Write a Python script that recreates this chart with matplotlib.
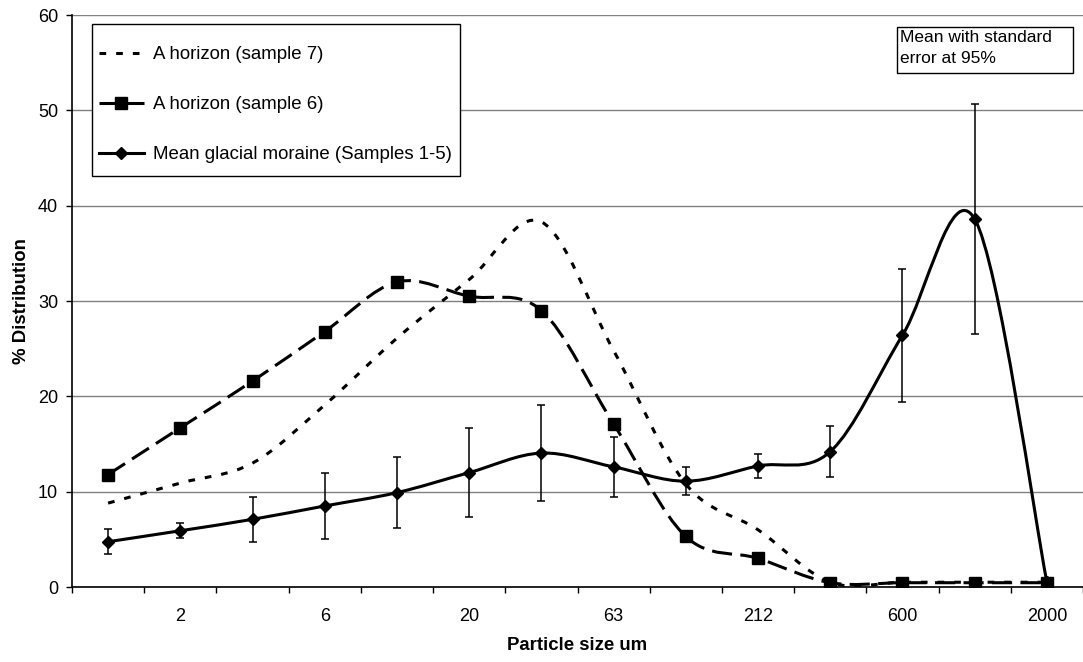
import numpy as np
import matplotlib
matplotlib.use('Agg')
import matplotlib.pyplot as plt
from matplotlib.path import Path
from matplotlib.patches import PathPatch, Rectangle
from matplotlib.lines import Line2D

plt.rcParams['font.family'] = ['Liberation Sans', 'DejaVu Sans']
plt.rcParams['lines.scale_dashes'] = False

# particle size classes (only every other one carries a label)
tamanhos = ['', '2', '', '6', '', '20', '', '63', '', '212', '', '600', '', '2000']

# % distribution per size class
amostra7 = [8.8, 10.9, 13.0, 19.1, 26.1, 32.25, 38.3, 24.8, 10.8, 6.0, 0.5, 0.5, 0.5, 0.5]
amostra6 = [11.8, 16.7, 21.6, 26.8, 32.0, 30.5, 29.0, 17.1, 5.3, 3.0, 0.45, 0.45, 0.45, 0.45]
moraina = [4.75, 5.9, 7.1, 8.5, 9.9, 12.0, 14.05, 12.6, 11.1, 12.7, 14.2, 26.4, 38.6, 0.5]
# standard error at 95% for the moraine mean (none on the last class)
erro95 = [1.3, 0.8, 2.35, 3.45, 3.7, 4.7, 5.0, 3.15, 1.45, 1.25, 2.7, 7.0, 12.1, None]


def suave(x, y):
    # smoothed line through every point (cubic bezier segments)
    p = np.column_stack([x, y]).astype(float)
    n = len(p)
    verts = [p[0]]
    codes = [Path.MOVETO]
    for i in range(n - 1):
        p0 = p[max(i - 1, 0)]
        p1 = p[i]
        p2 = p[i + 1]
        p3 = p[min(i + 2, n - 1)]
        verts += [p1 + (p2 - p0) / 6, p2 - (p3 - p1) / 6, p2]
        codes += [Path.CURVE4] * 3
    return Path(verts, codes)


W, H = 1083, 662
fig = plt.figure(figsize=(W / 100, H / 100), dpi=100)
ax = fig.add_axes([72 / W, (H - 587) / H, (W - 72) / W, 572 / H])

x = np.arange(len(tamanhos))

pontilhado = (0, (4.8, 7.2))
tracejado = (0, (14.5, 6))

ax.add_patch(PathPatch(suave(x, amostra7), fill=False, lw=2.2, ls=pontilhado,
                       edgecolor='black', capstyle='butt', zorder=3))
ax.add_patch(PathPatch(suave(x, amostra6), fill=False, lw=2.2, ls=tracejado,
                       edgecolor='black', capstyle='butt', zorder=3))
ax.plot(x, amostra6, ls='none', marker='s', ms=8, color='black', zorder=4)

ax.add_patch(PathPatch(suave(x, moraina), fill=False, lw=2.2, ls='-',
                       edgecolor='black', zorder=5))
ie = [i for i, e in enumerate(erro95) if e is not None]
ax.errorbar(x[ie], np.array(moraina)[ie], yerr=[erro95[i] for i in ie],
            fmt='none', ecolor='black', elinewidth=1.1, capsize=3, capthick=1.1, zorder=5)
ax.plot(x, moraina, ls='none', marker='D', ms=6.5, color='black', zorder=6)

ax.set_xlim(-0.5, len(tamanhos) - 0.5)
ax.set_ylim(0, 60)
ax.set_yticks(np.arange(0, 61, 10))
ax.grid(axis='y', color='#808080', lw=1.0)
ax.set_axisbelow(True)

ax.set_xticks(x[1::2])
ax.set_xticklabels(tamanhos[1::2])
ax.set_xticks(np.arange(-0.5, len(tamanhos), 1), minor=True)
ax.tick_params(axis='x', which='major', length=0, pad=15, labelsize=13)
ax.tick_params(axis='x', which='minor', length=4, width=1, direction='out')
ax.tick_params(axis='y', length=4, width=1, direction='out', pad=6, labelsize=13)

for lado in ['top', 'right']:
    ax.spines[lado].set_visible(False)
for lado in ['left', 'bottom']:
    ax.spines[lado].set_linewidth(1.2)
    ax.spines[lado].set_zorder(7)

ax.set_xlabel('Particle size um', fontsize=13.4, fontweight='bold')
ax.xaxis.set_label_coords(0.5, -0.087)
ax.xaxis.label.set_va('top')
ax.set_ylabel('% Distribution', fontsize=13.4, fontweight='bold')
ax.yaxis.set_label_coords(-0.042, 0.5)

# legend box
fig.patches.append(Rectangle((92 / W, (H - 176) / H), (460 - 92) / W, 152 / H,
                             transform=fig.transFigure, facecolor='white',
                             edgecolor='black', lw=1.0, zorder=8))
itens = [
    Line2D([], [], color='black', lw=2.2, ls=pontilhado),
    Line2D([], [], color='black', lw=2.2, ls=tracejado, marker='s', ms=8),
    Line2D([], [], color='black', lw=2.2, ls='-', marker='D', ms=6.5),
]
leg = fig.legend(itens, ['A horizon (sample 7)', 'A horizon (sample 6)',
                         'Mean glacial moraine (Samples 1-5)'],
                 loc='upper left', bbox_to_anchor=(99 / W, (H - 46) / H),
                 frameon=False, fontsize=13.4, handlelength=2.4,
                 handletextpad=0.5, labelspacing=1.78, borderpad=0, borderaxespad=0)
leg.set_zorder(9)

# note box
fig.patches.append(Rectangle((897 / W, (H - 73) / H), (1073 - 897) / W, 46 / H,
                             transform=fig.transFigure, facecolor='white',
                             edgecolor='black', lw=1.0, zorder=8))
fig.text(900 / W, (H - 30) / H, 'Mean with standard\nerror at 95%', fontsize=12.5,
         ha='left', va='top', linespacing=1.5, zorder=9)

fig.savefig('out.png', dpi=100)
